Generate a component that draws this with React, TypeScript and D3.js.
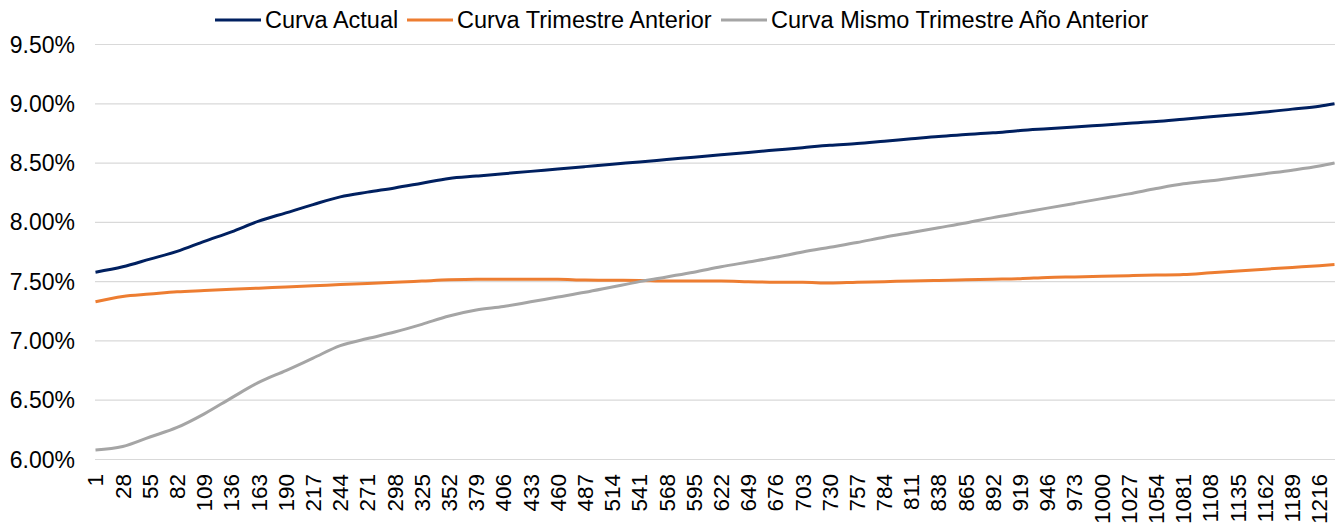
import React, { useEffect, useRef } from 'react'
import * as d3 from 'd3'

// days to maturity (x axis categories shown as ticks) plus the last point
const tickDays = [
  1, 28, 55, 82, 109, 136, 163, 190, 217, 244, 271, 298, 325, 352, 379, 406,
  433, 460, 487, 514, 541, 568, 595, 622, 649, 676, 703, 730, 757, 784, 811,
  838, 865, 892, 919, 946, 973, 1000, 1027, 1054, 1081, 1108, 1135, 1162,
  1189, 1216
]
const days = [...tickDays, 1231]

const curvaActual = [
  7.58, 7.625, 7.69, 7.755, 7.84, 7.92, 8.01, 8.08, 8.15, 8.215, 8.255, 8.29,
  8.33, 8.37, 8.39, 8.41, 8.43, 8.45, 8.47, 8.49, 8.51, 8.53, 8.55, 8.57, 8.59,
  8.61, 8.63, 8.65, 8.665, 8.685, 8.705, 8.725, 8.74, 8.755, 8.775, 8.79,
  8.805, 8.82, 8.835, 8.85, 8.87, 8.89, 8.91, 8.93, 8.955, 8.98, 9.0
]
const curvaTrimAnterior = [
  7.33, 7.375, 7.395, 7.415, 7.425, 7.435, 7.445, 7.455, 7.465, 7.475, 7.485,
  7.495, 7.505, 7.515, 7.52, 7.52, 7.52, 7.52, 7.513, 7.512, 7.51, 7.505,
  7.505, 7.505, 7.5, 7.495, 7.495, 7.488, 7.495, 7.5, 7.506, 7.51, 7.515, 7.52,
  7.525, 7.535, 7.54, 7.545, 7.55, 7.555, 7.56, 7.575, 7.59, 7.605, 7.62,
  7.635, 7.645
]
const curvaMismoTrim = [
  6.08, 6.11, 6.19, 6.27, 6.385, 6.52, 6.65, 6.75, 6.855, 6.96, 7.02, 7.075,
  7.14, 7.21, 7.26, 7.29, 7.33, 7.37, 7.41, 7.455, 7.5, 7.54, 7.58, 7.625,
  7.665, 7.705, 7.75, 7.79, 7.83, 7.875, 7.915, 7.955, 7.995, 8.04, 8.08, 8.12,
  8.16, 8.2, 8.24, 8.285, 8.325, 8.35, 8.38, 8.41, 8.44, 8.475, 8.5
]

const yTicks = [6.0, 6.5, 7.0, 7.5, 8.0, 8.5, 9.0, 9.5]

const seriesNames = [
  'Curva Actual',
  'Curva Trimestre Anterior',
  'Curva Mismo Trimestre Año Anterior'
]
const seriesColors = ['#002060', '#ED7D31', '#A5A5A5']

const width = 1335
const height = 525
const font = 'Arial, "Liberation Sans", sans-serif'

export default function App() {
  const ref = useRef<SVGSVGElement>(null)

  useEffect(() => {
    const svg = d3.select(ref.current)
    svg.selectAll('*').remove()

    const x = d3.scaleLinear().domain([1, 1231]).range([95.5, 1334.5])
    const y = d3.scaleLinear().domain([6.0, 9.5]).range([459.5, 44.5])

    // gridlines
    svg
      .append('g')
      .selectAll('line')
      .data(yTicks)
      .enter()
      .append('line')
      .attr('x1', 95)
      .attr('x2', width)
      .attr('y1', (d) => y(d))
      .attr('y2', (d) => y(d))
      .attr('stroke', '#D9D9D9')
      .attr('stroke-width', 1.2)

    // y labels
    svg
      .append('g')
      .selectAll('text')
      .data(yTicks)
      .enter()
      .append('text')
      .attr('x', 75)
      .attr('y', (d) => y(d))
      .attr('dy', '0.35em')
      .attr('text-anchor', 'end')
      .attr('font-family', font)
      .attr('font-size', 23)
      .attr('fill', '#000')
      .text((d) => d.toFixed(2) + '%')

    // x labels (rotated)
    svg
      .append('g')
      .selectAll('text')
      .data(tickDays)
      .enter()
      .append('text')
      .attr('transform', (d) => `translate(${x(d)}, 474) rotate(-90)`)
      .attr('dy', '0.35em')
      .attr('text-anchor', 'end')
      .attr('font-family', font)
      .attr('font-size', 22.5)
      .attr('fill', '#000')
      .text((d) => String(d))

    // lines
    const allSeries = [curvaActual, curvaTrimAnterior, curvaMismoTrim]
    const line = d3
      .line<number>()
      .x((d, i) => x(days[i]))
      .y((d) => y(d))
      .curve(d3.curveMonotoneX)

    allSeries.forEach((s, i) => {
      svg
        .append('path')
        .datum(s)
        .attr('fill', 'none')
        .attr('stroke', seriesColors[i])
        .attr('stroke-width', 3)
        .attr('d', line)
    })

    // legend
    const legendX = [215, 407, 721]
    const legend = svg
      .append('g')
      .selectAll('g')
      .data(seriesNames)
      .enter()
      .append('g')
      .attr('transform', (d, i) => `translate(${legendX[i]}, 20)`)

    legend
      .append('line')
      .attr('x1', 0)
      .attr('x2', 46)
      .attr('stroke', (d, i) => seriesColors[i])
      .attr('stroke-width', 3)

    legend
      .append('text')
      .attr('x', 50)
      .attr('dy', '0.35em')
      .attr('font-family', font)
      .attr('font-size', 23.5)
      .attr('fill', '#000')
      .text((d) => d)
  }, [])

  return (
    <svg
      ref={ref}
      width={width}
      height={height}
      style={{ position: 'absolute', left: 0, top: 0, background: '#fff' }}
    />
  )
}
